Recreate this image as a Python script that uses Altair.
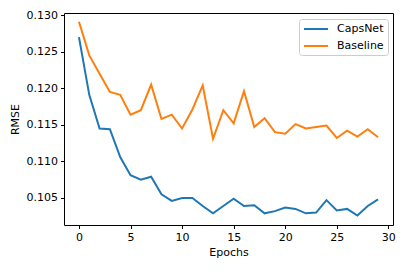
import altair as alt
import pandas as pd

epochs = list(range(30))
capsnet = [0.1270, 0.1191, 0.1145, 0.1144, 0.1106, 0.1081, 0.1075, 0.1079, 0.1055, 0.1046,
           0.1050, 0.1050, 0.1039, 0.1029, 0.1039, 0.1049, 0.1039, 0.1040, 0.1029, 0.1032,
           0.1037, 0.1035, 0.1029, 0.1030, 0.1047, 0.1033, 0.1035, 0.1026, 0.1039, 0.1048]
baseline = [0.1291, 0.1245, 0.1220, 0.1195, 0.1191, 0.1164, 0.1170, 0.1205, 0.1158, 0.1164,
            0.1145, 0.1171, 0.1204, 0.1131, 0.1170, 0.1152, 0.1196, 0.1147, 0.1159, 0.1140,
            0.1138, 0.1151, 0.1145, 0.1147, 0.1149, 0.1132, 0.1142, 0.1134, 0.1144, 0.1133]
series = ["CapsNet", "Baseline"]
colors = ["#1f77b4", "#ff7f0e"]
x_ticks = [0, 5, 10, 15, 20, 25, 30]
y_ticks = [0.105, 0.110, 0.115, 0.120, 0.125, 0.130]

rows = []
for name, vals in zip(series, [capsnet, baseline]):
    for e, v in zip(epochs, vals):
        rows.append({"Epoch": e, "RMSE": v, "Model": name})
df = pd.DataFrame(rows)

FONT = "DejaVu Sans"
FS = 11

chart = alt.Chart(df).mark_line(strokeWidth=2, clip=True).encode(
    x=alt.X("Epoch:Q", title="Epochs",
            scale=alt.Scale(domain=[-1.45, 30.45], nice=False, zero=False),
            axis=alt.Axis(values=x_ticks, format="d", grid=False)),
    y=alt.Y("RMSE:Q", title="RMSE",
            scale=alt.Scale(domain=[0.1013, 0.1303], nice=False, zero=False),
            axis=alt.Axis(values=y_ticks, format=".3f", grid=False)),
    color=alt.Color("Model:N", sort=series,
                    scale=alt.Scale(domain=series, range=colors),
                    legend=alt.Legend(title=None, orient="none", legendX=235, legendY=6,
                                      symbolType="M-1,0L3.8,0", symbolStrokeWidth=2, symbolSize=100,
                                      labelFont=FONT, labelFontSize=FS, labelColor="#000",
                                      strokeColor="#cccccc", cornerRadius=3, padding=4,
                                      fillColor="white", rowPadding=6, labelOffset=22)),
    detail="Model:N",
).properties(
    width=329, height=212,
    autosize=alt.AutoSizeParams(type="none"),
    padding={"left": 56, "top": 5, "right": 6, "bottom": 38},
).configure_view(
    stroke="#000", strokeWidth=1
).configure_axis(
    labelFont=FONT, labelFontSize=FS, labelColor="#000",
    titleFont=FONT, titleFontSize=FS, titleColor="#000", titleFontWeight="normal",
    tickColor="#000", tickSize=3.5, domainColor="#000", domain=False,
    labelPadding=3,
).configure_axisX(titlePadding=4).configure_axisY(titlePadding=6)

chart.save("out.html", embed_options={"renderer": "svg", "actions": False})
